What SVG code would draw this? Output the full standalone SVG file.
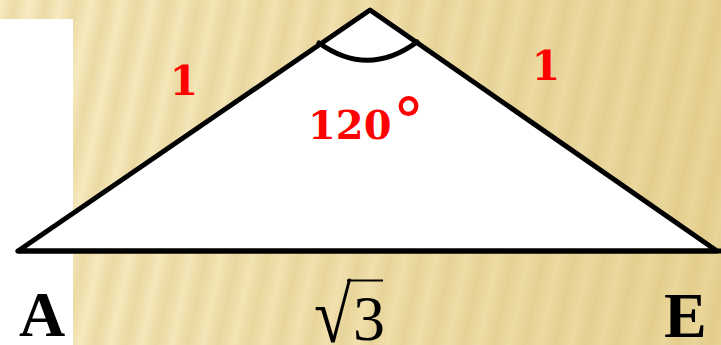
<svg xmlns="http://www.w3.org/2000/svg" width="721" height="345" viewBox="0 0 721 345">
<style>
.lbl{font-family:"DejaVu Serif","Liberation Serif",serif;font-weight:bold;fill:#FF0000}
.vtx{font-family:"Liberation Serif","Times New Roman",serif;font-weight:bold;fill:#000}
.edge{fill:none;stroke:#000;stroke-width:5;stroke-linejoin:round;stroke-linecap:round}
</style>
<defs>
<linearGradient id="bg" x1="0" y1="0" x2="1" y2="0">
<stop offset="0" stop-color="#F8ECC3"/>
<stop offset="1" stop-color="#E9D598"/>
</linearGradient>
<linearGradient id="st" x1="0" y1="0" x2="1" y2="0">
<stop offset="0" stop-color="#D6BC74" stop-opacity="0"/>
<stop offset="0.5" stop-color="#D6BC74" stop-opacity="0.35"/>
<stop offset="1" stop-color="#D6BC74" stop-opacity="0"/>
</linearGradient>
<pattern id="stripes" width="30" height="400" patternUnits="userSpaceOnUse" patternTransform="rotate(12)">
<rect width="30" height="400" fill="url(#st)"/>
</pattern>
</defs>
<rect width="721" height="345" fill="url(#bg)"/>
<rect width="721" height="345" fill="url(#stripes)"/>
<rect x="0" y="19" width="73" height="326" fill="#FFFFFF"/>
<g id="triangle">
<polygon class="edge" points="18,251 370,10 717,251" style="fill:#FFFFFF"/>
<line class="edge" x1="18" y1="251" x2="721" y2="251"/>
</g>
<g id="angle">
<path class="edge" d="M319,43 Q368,78 417,42"/>
<text class="lbl" x="308" y="139" font-size="40">120<tspan font-weight="normal" font-size="64" dx="1" dy="5">°</tspan></text>
</g>
<g id="side-left"><text class="lbl" x="184" y="95" font-size="41" text-anchor="middle">1</text></g>
<g id="side-right"><text class="lbl" x="546" y="80" font-size="41" text-anchor="middle">1</text></g>
<g id="vertex-A"><text class="vtx" x="19" y="336" font-size="64">A</text></g>
<g id="vertex-E"><text class="vtx" x="664" y="337" font-size="64">E</text></g>
<g id="base-label">
<text x="0" y="0" font-family="Liberation Serif, serif" font-size="80" fill="#000" transform="translate(314,342) scale(0.85,1)">√</text>
<line x1="347" y1="280.5" x2="383" y2="280.5" stroke="#000" stroke-width="2"/>
<text x="353" y="340" font-family="Liberation Serif, serif" font-size="64" fill="#000">3</text>
</g>
</svg>
